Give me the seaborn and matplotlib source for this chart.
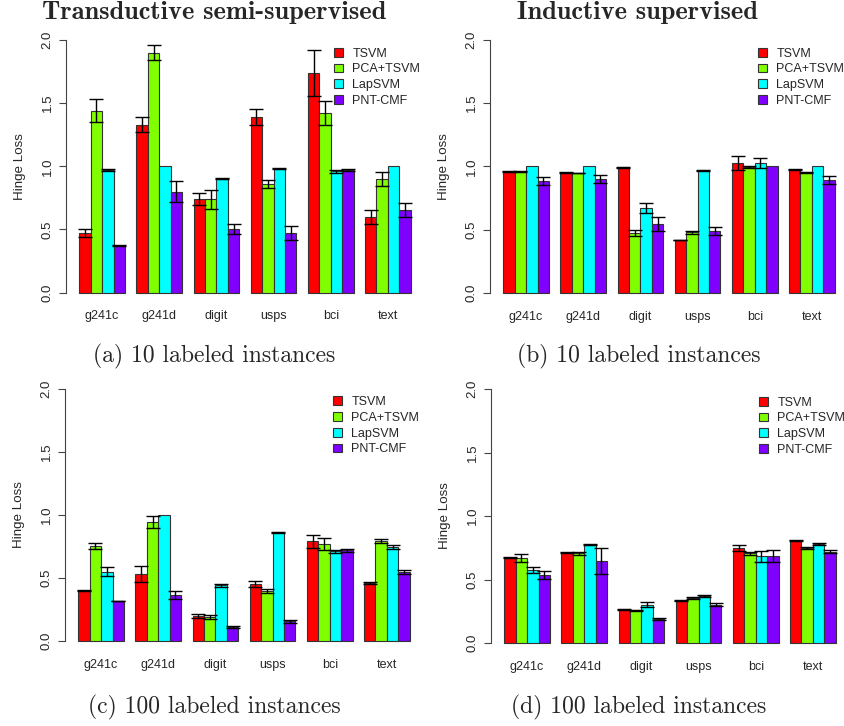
import matplotlib
matplotlib.use("Agg")
import matplotlib.pyplot as plt
import seaborn as sns
import pandas as pd

# 数据集与方法
datasets = ["g241c", "g241d", "digit", "usps", "bci", "text"]
methods = ["TSVM", "PCA+TSVM", "LapSVM", "PNT-CMF"]
colors = ["#FF0000", "#80FF00", "#00FFFF", "#8000FF"]

# (a) transductive, 10 labeled: rows = methods, cols = datasets
trans10_mean = [
    [0.47, 1.33, 0.74, 1.39, 1.74, 0.60],
    [1.44, 1.90, 0.74, 0.86, 1.42, 0.90],
    [0.97, 1.00, 0.90, 0.98, 0.96, 1.00],
    [0.37, 0.80, 0.50, 0.47, 0.97, 0.65],
]
trans10_err = [
    [0.03, 0.06, 0.05, 0.06, 0.18, 0.055],
    [0.09, 0.06, 0.075, 0.035, 0.095, 0.055],
    [0.005, 0.0, 0.003, 0.003, 0.012, 0.0],
    [0.005, 0.085, 0.04, 0.055, 0.01, 0.055],
]

# (b) inductive, 10 labeled
ind10_mean = [
    [0.96, 0.95, 0.995, 0.42, 1.03, 0.975],
    [0.96, 0.95, 0.475, 0.48, 0.995, 0.953],
    [1.00, 1.00, 0.67, 0.97, 1.025, 1.00],
    [0.885, 0.90, 0.545, 0.49, 1.00, 0.895],
]
ind10_err = [
    [0.003, 0.003, 0.003, 0.002, 0.055, 0.003],
    [0.002, 0.002, 0.025, 0.01, 0.008, 0.004],
    [0.0, 0.0, 0.04, 0.006, 0.04, 0.0],
    [0.035, 0.03, 0.055, 0.03, 0.0, 0.03],
]

# (c) transductive, 100 labeled
trans100_mean = [
    [0.40, 0.53, 0.195, 0.45, 0.79, 0.46],
    [0.75, 0.94, 0.19, 0.395, 0.77, 0.79],
    [0.55, 1.00, 0.44, 0.862, 0.71, 0.745],
    [0.316, 0.366, 0.11, 0.155, 0.717, 0.545],
]
trans100_err = [
    [0.006, 0.063, 0.015, 0.024, 0.053, 0.007],
    [0.025, 0.048, 0.015, 0.015, 0.048, 0.017],
    [0.035, 0.0, 0.01, 0.003, 0.013, 0.018],
    [0.003, 0.032, 0.01, 0.012, 0.01, 0.015],
]

# (d) inductive, 100 labeled
ind100_mean = [
    [0.672, 0.711, 0.265, 0.333, 0.748, 0.806],
    [0.67, 0.705, 0.257, 0.354, 0.705, 0.748],
    [0.575, 0.775, 0.302, 0.37, 0.682, 0.777],
    [0.537, 0.646, 0.19, 0.302, 0.685, 0.719],
]
ind100_err = [
    [0.004, 0.004, 0.004, 0.004, 0.025, 0.004],
    [0.033, 0.01, 0.004, 0.005, 0.01, 0.004],
    [0.02, 0.006, 0.02, 0.006, 0.045, 0.008],
    [0.032, 0.105, 0.01, 0.01, 0.047, 0.012],
]

col_titles = ["Transductive semi-supervised", "Inductive supervised"]
captions = ["(a) 10 labeled instances", "(b) 10 labeled instances",
            "(c) 100 labeled instances", "(d) 100 labeled instances"]

sns.set_style("white")
plt.rcParams["font.family"] = ["Liberation Sans", "DejaVu Sans"]

W, H = 845, 726
fig = plt.figure(figsize=(W / 100, H / 100), dpi=100)


def draw_panel(left_px, y0_px, y2_px, means, errs):
    """画一个子图, 位置用像素给出"""
    ppu = (y0_px - y2_px) / 2.0
    bottom_px = y0_px + 0.08 * ppu
    top_px = y2_px - 0.08 * ppu
    ax = fig.add_axes([left_px / W, 1 - bottom_px / H, 358 / W, (bottom_px - top_px) / H])

    rows = []
    for m, vals in zip(methods, means):
        for d, v in zip(datasets, vals):
            rows.append({"dataset": d, "method": m, "value": v})
    df = pd.DataFrame(rows)

    sns.barplot(data=df, x="dataset", y="value", hue="method", order=datasets,
                hue_order=methods, palette=colors, errorbar=None, width=0.8,
                edgecolor="#333333", linewidth=0.8, saturation=1, legend=False, ax=ax)

    # 误差棒
    for cont, m_err in zip(ax.containers, errs):
        for bar, e in zip(cont, m_err):
            if e <= 0:
                continue
            x = bar.get_x() + bar.get_width() / 2
            ax.errorbar(x, bar.get_height(), yerr=e, fmt="none", ecolor="black",
                        elinewidth=1, capsize=5, capthick=1, zorder=5)

    ax.set_xlim(-0.632, 5.632)
    ax.set_ylim(-0.08, 2.08)
    ax.set_xlabel("")
    ax.set_ylabel("Hinge Loss", fontsize=9.6)
    ax.yaxis.set_label_coords(-0.113, 0.5)
    ax.set_yticks([0.0, 0.5, 1.0, 1.5, 2.0])
    ax.set_yticklabels(["0.0", "0.5", "1.0", "1.5", "2.0"])
    plt.setp(ax.get_yticklabels(), rotation=90, va="center")
    ax.tick_params(axis="y", left=True, length=5, width=0.8, pad=4, labelsize=9.5,
                   color="#444444")
    ax.tick_params(axis="x", length=0, pad=5.5, labelsize=9)
    for s in ["top", "right", "bottom"]:
        ax.spines[s].set_visible(False)
    ax.spines["left"].set_bounds(0, 2)
    ax.spines["left"].set_color("#444444")
    ax.spines["left"].set_linewidth(0.8)

    ax.legend(handles=list(ax.containers), labels=methods, loc="upper left",
              bbox_to_anchor=(0.749, 0.935), frameon=False, fontsize=9,
              handlelength=0.7, handleheight=0.7, handletextpad=0.75,
              labelspacing=0.3, borderpad=0, borderaxespad=0)
    return ax


draw_panel(66, 292.5, 40, trans10_mean, trans10_err)
draw_panel(490, 293, 40, ind10_mean, ind10_err)
draw_panel(65, 641, 388.5, trans100_mean, trans100_err)
draw_panel(491, 643, 389, ind100_mean, ind100_err)

# 标题和子图说明 (LaTeX 风格字体)
fig.text(214 / W, 1 - 18.5 / H, col_titles[0], ha="center", va="baseline",
         family="cmb10", fontsize=19)
fig.text(637 / W, 1 - 18.5 / H, col_titles[1], ha="center", va="baseline",
         family="cmb10", fontsize=19)
cap_pos = [(214, 362), (639, 362), (214, 713), (639, 713)]
for (cx, cy), txt in zip(cap_pos, captions):
    fig.text(cx / W, 1 - cy / H, txt, ha="center", va="baseline",
             family="cmr10", fontsize=17)

fig.savefig("out.png", dpi=100)
